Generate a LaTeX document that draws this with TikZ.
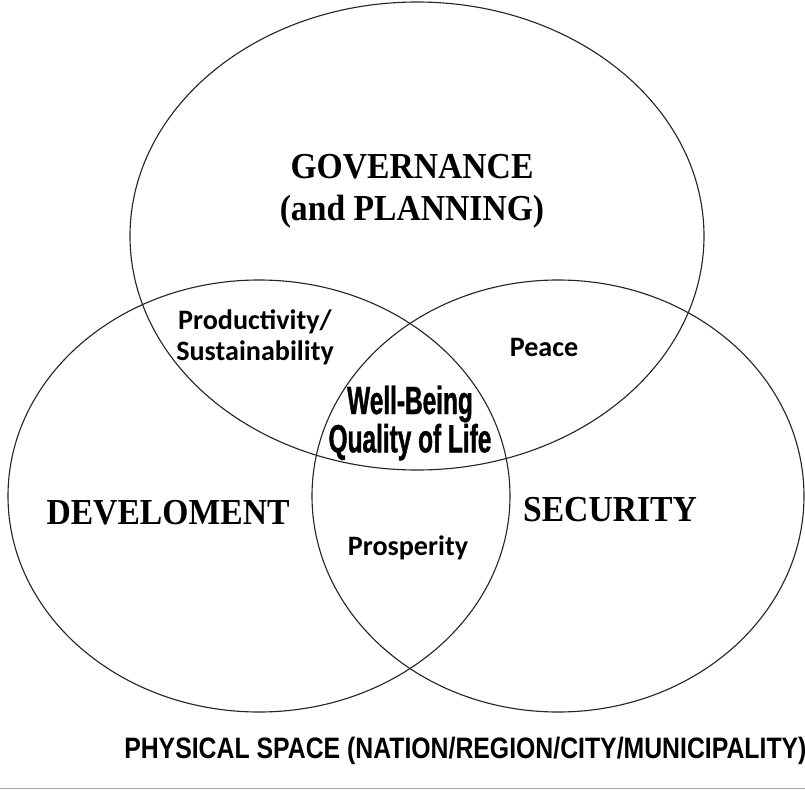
\documentclass[tikz,border=0pt]{standalone}
\usepackage{fontspec}
\setmainfont[FakeStretch=0.92]{Liberation Serif}
\newfontfamily\labelfont{Carlito}
\newfontfamily\heavyfont[FakeStretch=0.62,BoldFeatures={FakeBold=1}]{Liberation Sans}
\newfontfamily\basefont[FakeStretch=0.84]{Liberation Sans}
\usetikzlibrary{positioning}

\tikzset{
	set/.style={draw=black!85, line width=0.8pt},
	area/.style={font=\bfseries\fontsize{26}{30}\selectfont, align=center, inner sep=0pt},
	overlap/.style={font=\labelfont\bfseries\fontsize{20}{22}\selectfont, align=center, inner sep=0pt},
}

\begin{document}
\begin{tikzpicture}[x=0.025cm, y=-0.025cm]
	\useasboundingbox (0,0) rectangle (805,790);

	% the three sets
	\draw[set] (417,236) ellipse [x radius=287, y radius=234];
	\draw[set] (259,496) ellipse [x radius=251, y radius=216];
	\draw[set] (558,496) ellipse [x radius=246, y radius=216];

	\node[area] (gov) at (412,191) {GOVERNANCE\\(and PLANNING)};
	\node[area] (dev) at (168,513) {DEVELOMENT};
	\node[area] (sec) at (610,510) {SECURITY};

	\node[overlap] (prod) at (255,337) {Productivity/\\Sustainability};
	\node[overlap] (peace) at (544,347) {Peace};
	\node[overlap] (prosp) at (408,548) {Prosperity};

	\node[font=\heavyfont\bfseries\fontsize{28}{25}\selectfont, align=center, inner sep=0pt] (well) at (410,423) {Well-Being\\Quality of Life};

	\node[font=\basefont\bfseries\fontsize{21}{22}\selectfont, anchor=west, inner sep=0pt] (space) at (124,751) {PHYSICAL SPACE (NATION/REGION/CITY/MUNICIPALITY)};

	\draw[black!35, line width=0.6pt] (0,788) -- (805,788);
\end{tikzpicture}
\end{document}
